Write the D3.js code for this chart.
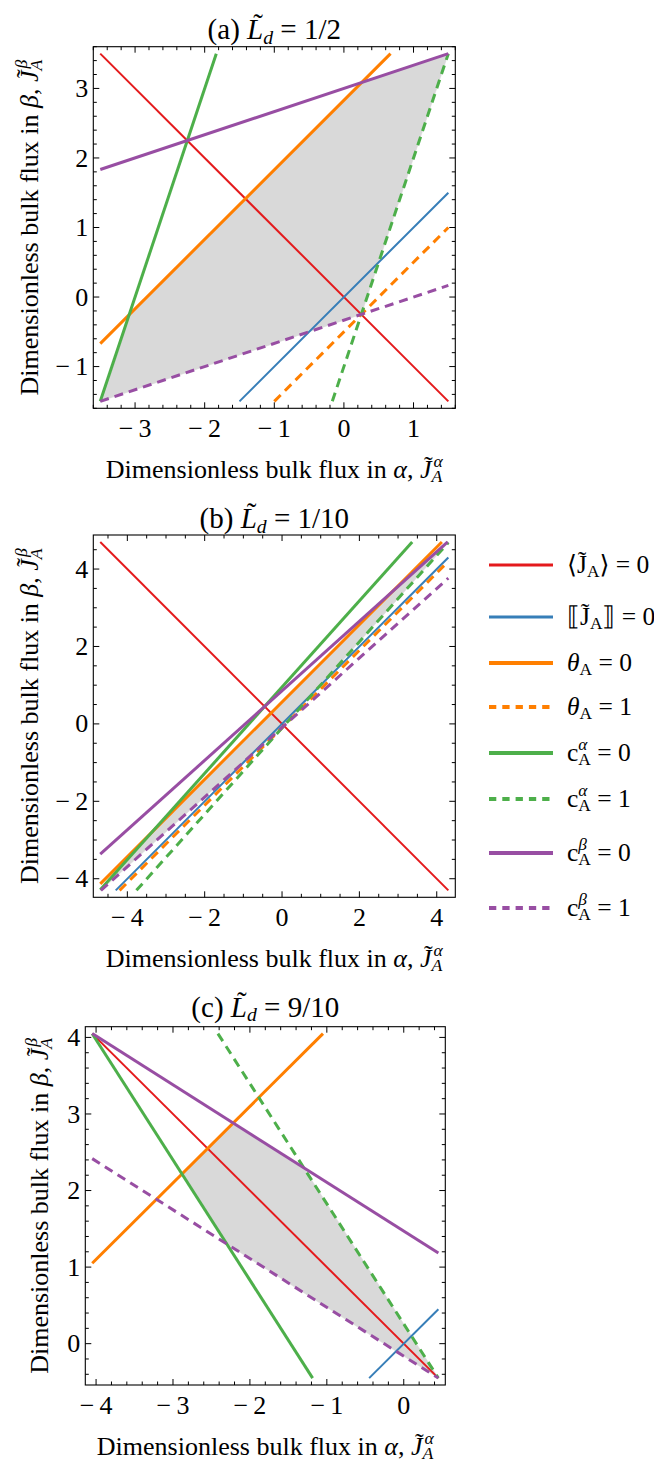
<!DOCTYPE html>
<html>
<head>
<meta charset="utf-8">
<script src="https://cdn.jsdelivr.net/npm/d3@7"></script>
<style>
  html, body { margin: 0; padding: 0; background: #fff; }
  svg text { font-family: "Liberation Serif", "Times New Roman", "DejaVu Serif", serif; white-space: pre; fill: #000; }
</style>
</head>
<body>
<svg id="chart" width="654" height="1464"></svg>
<script>
// ---------------- DATA ----------------
const panelTags = ["(a)", "(b)", "(c)"];
const panelLd = ["1/2", "1/10", "9/10"];
// data extent of the plotted lines per panel
const xExtent = [[-3.5, 1.5], [-4.7, 4.3], [-4.05, 0.45]];
const yExtent = [[-1.5, 3.5], [-4.3, 4.7], [-0.45, 4.05]];
// series (line) keys, in legend order
const seriesKeys = ["Jmean0", "Jjump0", "theta0", "theta1", "calpha0", "calpha1", "cbeta0", "cbeta1"];
// each line: Jβ = slope * Jα + intercept
const slopesA = [-1, 1, 1, 1, 3, 3, 0.3333, 0.3333];
const interceptsA = [0, 0, 2.83, -0.5, 9, -1, 3, -0.333];
const slopesB = [-1, 1, 1, 1, 1.114, 1.114, 0.898, 0.898];
const interceptsB = [0, 0, 0.567, -0.1, 0.951, -0.106, 0.854, -0.095];
const slopesC = [-1, 1, 1, 1, -1.57, -1.57, -0.637, -0.637];
const interceptsC = [0, 0, 5.1, -0.9, -2.31, 0.257, 1.47, -0.163];
const slopes = [slopesA, slopesB, slopesC];
const intercepts = [interceptsA, interceptsB, interceptsC];
// admissible region: 0 <= θ, cα, cβ <= 1 -> band between the "=0" and "=1" lines
const bands = [["theta0", "theta1"], ["calpha0", "calpha1"], ["cbeta0", "cbeta1"]];
// ticks
const majorX = [[-3, -2, -1, 0, 1], [-4, -2, 0, 2, 4], [-4, -3, -2, -1, 0]];
const majorY = [[-1, 0, 1, 2, 3], [-4, -2, 0, 2, 4], [0, 1, 2, 3, 4]];
const minorStep = [0.2, 0.5, 0.2];

// ---------------- STYLE / LAYOUT ----------------
const colors = { Jmean0: "#e41a1c", Jjump0: "#377eb8", theta0: "#ff7f00", theta1: "#ff7f00",
  calpha0: "#4daf4a", calpha1: "#4daf4a", cbeta0: "#984ea3", cbeta1: "#984ea3" };
const widths = { Jmean0: 2, Jjump0: 2, theta0: 3, theta1: 3, calpha0: 3, calpha1: 3, cbeta0: 3, cbeta1: 3 };
const dashed = { theta1: true, calpha1: true, cbeta1: true };
const layout = [
  { left: 93.3, top: 46.7, w: 362, h: 361.6 },
  { left: 93.3, top: 535, w: 362, h: 362.3 },
  { left: 85.3, top: 1026.7, w: 360, h: 358.3 }
];
const titleGap = [7.5, 7, 10];
const FS_TICK = 26, FS_LABEL = 26, FS_TITLE = 29, FS_LEG = 25.5;

const svg = d3.select("#chart");

// ------------- rich text helper -------------
function rich(parent, segs, fs) {
  const g = parent.append("g");
  let x = 0;
  segs.forEach(s => {
    if (s.t !== undefined) {
      const el = g.append("text").attr("x", x).attr("y", 0).attr("font-size", fs)
        .attr("xml:space", "preserve")
        .style("font-style", s.i ? "italic" : "normal").text(s.t);
      const w = el.node().getComputedTextLength();
      if (s.tilde) {
        g.append("text").attr("x", x + w / 2 + (s.i ? 0.1 * fs : 0)).attr("y", -0.17 * fs)
          .attr("text-anchor", "middle").attr("font-size", fs).text("\u02DC");
      }
      x += w;
    } else {
      const sfs = fs * 0.68;
      let w = 0;
      if (s.sup) {
        const e = g.append("text").attr("x", x + (s.supdx || 0) * fs).attr("y", -0.42 * fs).attr("font-size", sfs)
          .style("font-style", s.supi ? "italic" : "normal").text(s.sup);
        w = Math.max(w, e.node().getComputedTextLength() + (s.supdx || 0) * fs);
      }
      if (s.sub) {
        const e = g.append("text").attr("x", x).attr("y", 0.16 * fs).attr("font-size", sfs)
          .style("font-style", s.subi ? "italic" : "normal").text(s.sub);
        w = Math.max(w, e.node().getComputedTextLength());
      }
      x += w;
    }
  });
  return { g, width: x };
}

function fmt(d) { return d < 0 ? "\u2212\u2009" + Math.abs(d) : String(d); }

function clipLine(m, b, xd, yd) {
  let lo = xd[0], hi = xd[1];
  if (m !== 0) {
    let a = (yd[0] - b) / m, c = (yd[1] - b) / m;
    if (a > c) [a, c] = [c, a];
    lo = Math.max(lo, a); hi = Math.min(hi, c);
  } else if (b < yd[0] || b > yd[1]) return null;
  if (hi - lo < 0.01) return null;
  return [[lo, m * lo + b], [hi, m * hi + b]];
}

function clipPoly(poly, f) {
  const out = [];
  for (let i = 0; i < poly.length; i++) {
    const p = poly[i], q = poly[(i + 1) % poly.length];
    const fp = f(p), fq = f(q);
    if (fp >= 0) out.push(p);
    if ((fp >= 0) !== (fq >= 0)) {
      const t = fp / (fp - fq);
      out.push([p[0] + t * (q[0] - p[0]), p[1] + t * (q[1] - p[1])]);
    }
  }
  return out;
}

function pad(e) { const r = e[1] - e[0]; return [e[0] - 0.02 * r, e[1] + 0.02 * r]; }

function ticksIn(dom, step) {
  const out = [];
  for (let k = Math.ceil(dom[0] / step - 1e-9); k <= Math.floor(dom[1] / step + 1e-9); k++) out.push(+(k * step).toFixed(6));
  return out;
}

// ------------- panels -------------
panelTags.forEach((tag, pi) => {
  const L = layout[pi];
  const xd = pad(xExtent[pi]), yd = pad(yExtent[pi]);
  const x = d3.scaleLinear().domain(xd).range([L.left, L.left + L.w]);
  const y = d3.scaleLinear().domain(yd).range([L.top + L.h, L.top]);
  const g = svg.append("g");

  const sl = {}, ic = {};
  seriesKeys.forEach((k, i) => { sl[k] = slopes[pi][i]; ic[k] = intercepts[pi][i]; });

  // admissible region
  let poly = [[xExtent[pi][0], yExtent[pi][0]], [xExtent[pi][1], yExtent[pi][0]],
              [xExtent[pi][1], yExtent[pi][1]], [xExtent[pi][0], yExtent[pi][1]]];
  bands.forEach(([k0, k1]) => {
    const m = sl[k0];
    const lo = Math.min(ic[k0], ic[k1]), hi = Math.max(ic[k0], ic[k1]);
    poly = clipPoly(poly, p => (p[1] - m * p[0]) - lo);
    poly = clipPoly(poly, p => hi - (p[1] - m * p[0]));
  });
  g.append("path").attr("d", d3.line().x(d => x(d[0])).y(d => y(d[1]))(poly) + "Z")
    .attr("fill", "#d9d9d9").attr("stroke", "#d9d9d9").attr("stroke-width", 0.5);

  // lines
  seriesKeys.forEach(k => {
    const seg = clipLine(sl[k], ic[k], xExtent[pi], yExtent[pi]);
    if (!seg) return;
    g.append("path").attr("d", d3.line().x(d => x(d[0])).y(d => y(d[1]))(seg))
      .attr("fill", "none").attr("stroke", colors[k]).attr("stroke-width", widths[k])
      .attr("stroke-dasharray", dashed[k] ? "9,6" : null);
  });

  // frame
  g.append("rect").attr("x", L.left).attr("y", L.top).attr("width", L.w).attr("height", L.h)
    .attr("fill", "none").attr("stroke", "#000").attr("stroke-width", 1.1);

  // ticks (inside, on all four sides)
  const minX = ticksIn(xd, minorStep[pi]).filter(v => !majorX[pi].some(m => Math.abs(m - v) < 1e-6));
  const minY = ticksIn(yd, minorStep[pi]).filter(v => !majorY[pi].some(m => Math.abs(m - v) < 1e-6));
  const tk = g.append("g").attr("stroke", "#000").attr("stroke-width", 1);
  const addX = (vals, len) => vals.forEach(v => {
    tk.append("line").attr("x1", x(v)).attr("x2", x(v)).attr("y1", L.top + L.h).attr("y2", L.top + L.h - len);
    tk.append("line").attr("x1", x(v)).attr("x2", x(v)).attr("y1", L.top).attr("y2", L.top + len);
  });
  const addY = (vals, len) => vals.forEach(v => {
    tk.append("line").attr("y1", y(v)).attr("y2", y(v)).attr("x1", L.left).attr("x2", L.left + len);
    tk.append("line").attr("y1", y(v)).attr("y2", y(v)).attr("x1", L.left + L.w).attr("x2", L.left + L.w - len);
  });
  addX(majorX[pi], 6); addX(minX, 3.5); addY(majorY[pi], 6); addY(minY, 3.5);

  // tick labels
  majorX[pi].forEach(v => g.append("text").attr("x", x(v)).attr("y", L.top + L.h + 29)
    .attr("text-anchor", "middle").attr("font-size", FS_TICK).text(fmt(v)));
  majorY[pi].forEach(v => g.append("text").attr("x", L.left - 5).attr("y", y(v) + 0.33 * FS_TICK)
    .attr("text-anchor", "end").attr("font-size", FS_TICK).text(fmt(v)));

  // title
  const t = rich(g, [{ t: tag + " " }, { t: "L", i: true, tilde: true }, { sub: "d", subi: true }, { t: " = " + panelLd[pi] }], FS_TITLE);
  t.g.attr("transform", `translate(${L.left + L.w / 2 - t.width / 2},${L.top - titleGap[pi]})`);

  // x label
  const xl = rich(g, [{ t: "Dimensionless bulk flux in " }, { t: "\u03B1", i: true }, { t: ", " },
    { t: "J", i: true, tilde: true }, { sub: "A", subi: true, sup: "\u03B1", supi: true, supdx: 0.08 }], FS_LABEL);
  xl.g.attr("transform", `translate(${L.left + L.w / 2 - xl.width / 2},${L.top + L.h + 70})`);

  // y label (rotated)
  const yl = rich(g, [{ t: "Dimensionless bulk flux in " }, { t: "\u03B2", i: true }, { t: ", " },
    { t: "J", i: true, tilde: true }, { sub: "A", subi: true, sup: "\u03B2", supi: true, supdx: 0.08 }], FS_LABEL);
  const yx = pi === 2 ? 48 : 38;
  yl.g.attr("transform", `translate(${yx},${L.top + L.h / 2 + yl.width / 2}) rotate(-90)`);
});

// ------------- legend -------------
const legendY = [565, 617, 663, 707, 753, 799, 853, 908];
const legendSegs = [
  [{ t: "\u27E8" }, { t: "J", tilde: true }, { sub: "A" }, { t: "\u27E9 = 0" }],
  [{ t: "\u27E6" }, { t: "J", tilde: true }, { sub: "A" }, { t: "\u27E7 = 0" }],
  [{ t: "\u03B8", i: true }, { sub: "A" }, { t: " = 0" }],
  [{ t: "\u03B8", i: true }, { sub: "A" }, { t: " = 1" }],
  [{ t: "c" }, { sub: "A", sup: "\u03B1", supi: true }, { t: " = 0" }],
  [{ t: "c" }, { sub: "A", sup: "\u03B1", supi: true }, { t: " = 1" }],
  [{ t: "c" }, { sub: "A", sup: "\u03B2", supi: true }, { t: " = 0" }],
  [{ t: "c" }, { sub: "A", sup: "\u03B2", supi: true }, { t: " = 1" }]
];
const lg = svg.append("g");
seriesKeys.forEach((k, i) => {
  const yy = legendY[i];
  lg.append("line").attr("x1", 489).attr("x2", 553).attr("y1", yy).attr("y2", yy)
    .attr("stroke", colors[k]).attr("stroke-width", widths[k] + 0.8)
    .attr("stroke-dasharray", dashed[k] ? "7.3,6" : null);
  const r = rich(lg, legendSegs[i], FS_LEG);
  r.g.attr("transform", `translate(567,${yy + 8})`);
});
</script>
</body>
</html>
